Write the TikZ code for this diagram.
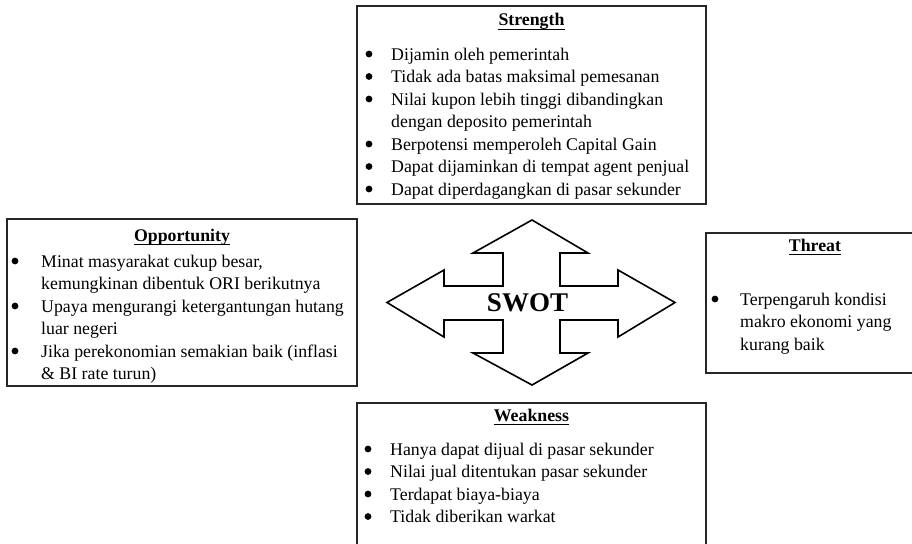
\documentclass[tikz,border=0pt]{standalone}
\usepackage{fontspec}
\setmainfont{Liberation Serif}
\begin{document}
\begin{tikzpicture}[x=1pt,y=-1pt,
  box/.style={draw=black!85, line width=1.2pt, inner sep=0pt, outer sep=0pt, anchor=north west},
  ttl/.style={font=\fontsize{17.8}{22.5}\selectfont\bfseries, inner sep=0pt, anchor=base},
  lst/.style={font=\fontsize{17.8}{22.5}\selectfont, inner sep=0pt, anchor=base west},
  uline/.style={line width=1pt, black},
  bulletdot/.style={fill=black},
  swotarrow/.style={draw=black, line width=1.6pt, fill=white, line join=miter}]
\useasboundingbox (0,0) rectangle (912,543);
\clip (0,0) rectangle (912,543);

% boxes
\node[box, minimum width=349pt, minimum height=198pt] (S) at (357,6) {};
\node[box, minimum width=350pt, minimum height=167pt] (O) at (7,219) {};
\node[box, minimum width=220pt, minimum height=140pt] (T) at (706,233) {};
\node[box, minimum width=349pt, minimum height=160pt] (W) at (357,403) {};

% titles
\node[ttl] (St) at (531.5,26) {Strength};
\node[ttl] (Ot) at (182,241) {Opportunity};
\node[ttl] (Tt) at (815,251.7) {Threat};
\node[ttl] (Wt) at (531.5,421) {Weakness};
\foreach \n in {St,Ot,Tt,Wt}{
  \draw[uline] ([yshift=-3.2pt]\n.base west) -- ([yshift=-3.2pt]\n.base east);
}

% bullets
\foreach \y in {60,82.5,105,150,172.5,195}{\fill[bulletdot] (369,\y-6) circle (3.4pt);}
\foreach \y in {267,312,357}{\fill[bulletdot] (15,\y-6) circle (3.4pt);}
\fill[bulletdot] (715,305-6) circle (3.4pt);
\foreach \y in {455,477.5,500,522.5}{\fill[bulletdot] (368,\y-6) circle (3.4pt);}

% lists
\node[lst] (Sl) at (391,60) {\begin{tabular}[t]{@{}l@{}}
Dijamin oleh pemerintah\\
Tidak ada batas maksimal pemesanan\\
Nilai kupon lebih tinggi dibandingkan\\
dengan deposito pemerintah\\
Berpotensi memperoleh Capital Gain\\
Dapat dijaminkan di tempat agent penjual\\
Dapat diperdagangkan di pasar sekunder
\end{tabular}};

\node[lst] (Ol) at (41,267) {\begin{tabular}[t]{@{}l@{}}
Minat masyarakat cukup besar,\\
kemungkinan dibentuk ORI berikutnya\\
Upaya mengurangi ketergantungan hutang\\
luar negeri\\
Jika perekonomian semakian baik (inflasi\\
\& BI rate turun)
\end{tabular}};

\node[lst] (Tl) at (740,305) {\begin{tabular}[t]{@{}l@{}}
Terpengaruh kondisi\\
makro ekonomi yang\\
kurang baik
\end{tabular}};

\node[lst] (Wl) at (390,455) {\begin{tabular}[t]{@{}l@{}}
Hanya dapat dijual di pasar sekunder\\
Nilai jual ditentukan pasar sekunder\\
Terdapat biaya-biaya\\
Tidak diberikan warkat
\end{tabular}};

% SWOT four-way arrow
\draw[swotarrow] (532,220) -- (588,253) -- (560,253) -- (560,286) -- (618,286) -- (618,270)
  -- (675,302.5) -- (618,337) -- (618,320) -- (560,320) -- (560,353) -- (588,353)
  -- (532,385) -- (473,353) -- (503,353) -- (503,320) -- (444,320) -- (444,337)
  -- (387,302.5) -- (444,270) -- (444,286) -- (503,286) -- (503,253) -- (473,253) -- cycle;
\node[font=\fontsize{27}{30}\selectfont\bfseries, inner sep=0pt, anchor=base] (swot) at (527.5,311.5) {SWOT};
\end{tikzpicture}
\end{document}
